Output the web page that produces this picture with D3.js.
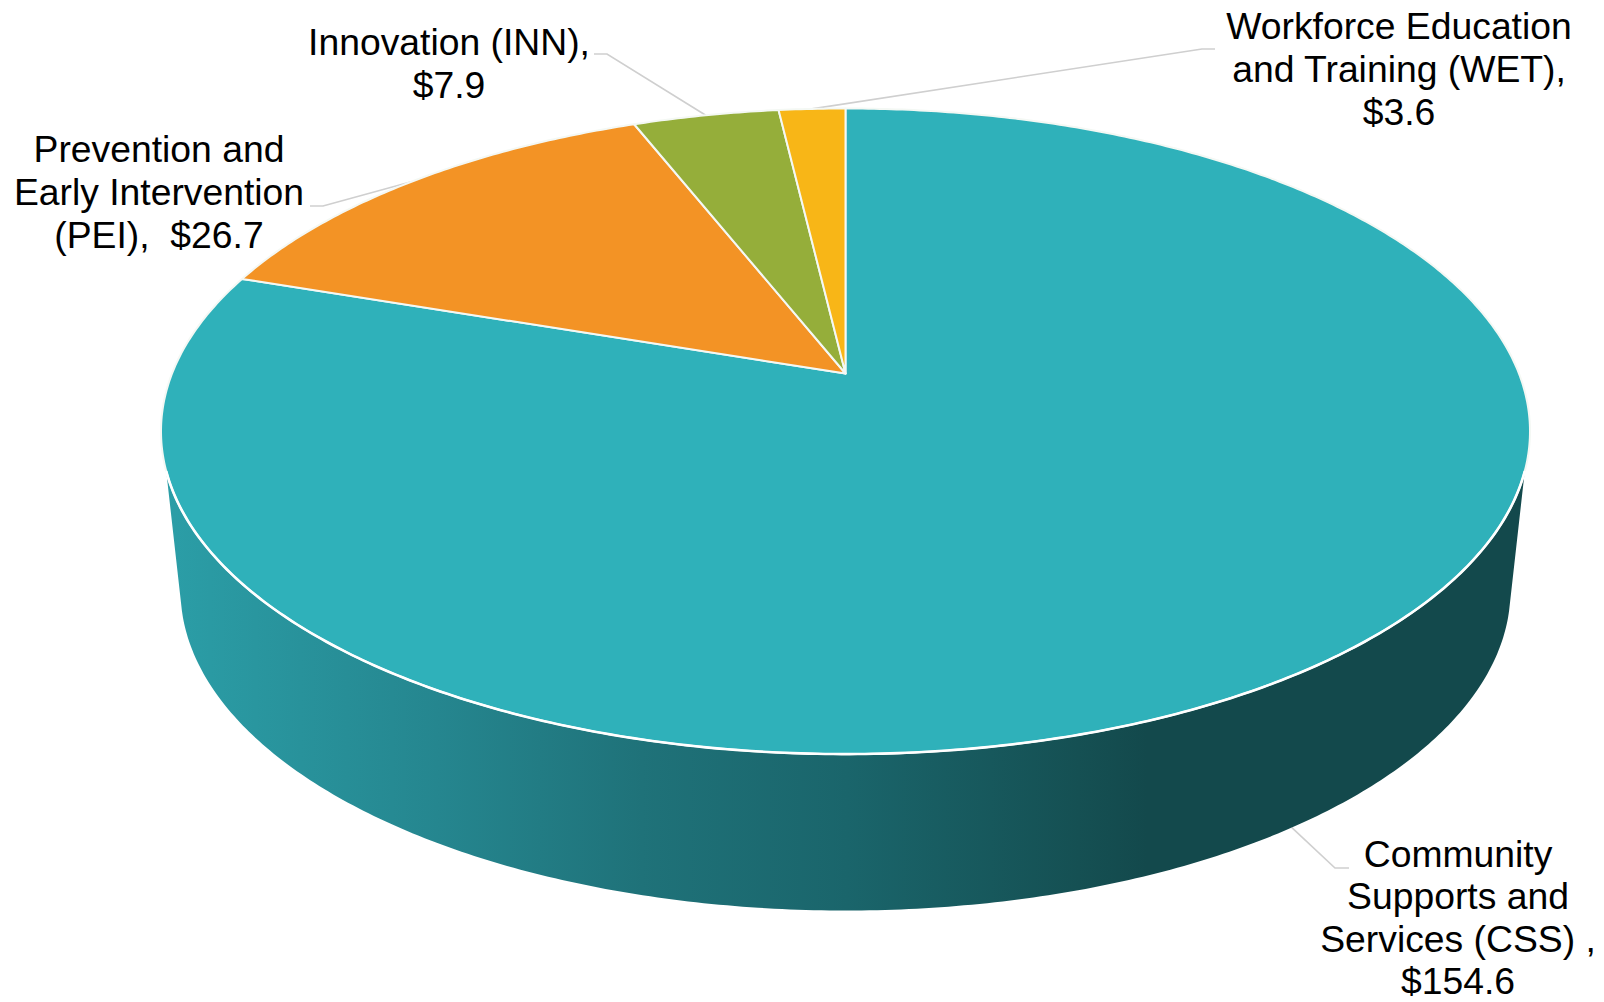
<!DOCTYPE html>
<html>
<head>
<meta charset="utf-8">
<script src="https://cdn.jsdelivr.net/npm/d3@7"></script>
<style>
html, body { margin: 0; padding: 0; background: #fff; }
svg { display: block; }
text { font-family: "Liberation Sans", Arial, sans-serif; font-size: 37.3px; fill: #000; text-anchor: middle; white-space: pre; }
</style>
</head>
<body>
<div class="container"></div>
<script>
const WIDTH = 1604;
const HEIGHT = 1002;

var categories = ["CSS", "PEI", "INN", "WET"];
var values = [154.6, 26.7, 7.9, 3.6];
var labelLines = [
    ["Community", "Supports and", "Services (CSS) ,", "$154.6"],
    ["Prevention and", "Early Intervention", "(PEI),  $26.7"],
    ["Innovation (INN),", "$7.9"],
    ["Workforce Education", "and Training (WET),", "$3.6"]
];
var sliceColors = ["#2fb1ba", "#f39325", "#95ae3a", "#f8b617"];

// pie geometry
const TOP = { cx: 845.5, cy: 431.3, rx: 684.5, ry: 322.8 };
const BOTTOM = { cx: 845.5, cy: 590, rx: 665, ry: 320.5 };
const TILT = 0.179;
const DEG = Math.PI / 180;

// label placing: text centre, first baseline, line step, start and knee of the leader
var labelPlaces = [
    { x: 1458, y: 866.8, step: 42.4, lx: 1349, ly: 868, kx: 1335, ky: 868, face: BOTTOM },
    { x: 159, y: 162, step: 43, lx: 310, ly: 206, kx: 323, ky: 206, face: TOP },
    { x: 449, y: 55, step: 43, lx: 594, ly: 54, kx: 607, ky: 54, face: TOP },
    { x: 1399, y: 39, step: 43, lx: 1215, ly: 49, kx: 1202, ky: 49, face: TOP }
];

var translate = function(x, y) {
    return `translate(${x},${y})`;
};

// perspective: takes an angle on the real disc to a point on the drawn ellipse
var project = function(face, angle, r) {
    let xScale = d3.scaleLinear().domain([-1, 1]).range([face.cx - face.rx, face.cx + face.rx]);
    let yScale = d3.scaleLinear().domain([-1, 1]).range([face.cy - face.ry, face.cy + face.ry]);
    let u = r * Math.sin(angle);
    let v = -r * Math.cos(angle);
    let w = 1 - TILT * v;
    return [xScale(u * Math.sqrt(1 - TILT * TILT) / w), yScale((v - TILT) / w)];
};

var arcPoints = function(face, start, end) {
    let steps = Math.max(2, Math.ceil((end - start) / 0.01));
    return d3.range(steps + 1).map((i) => project(face, start + (end - start) * i / steps, 1));
};

var showChart = function() {
    var svg = d3.select('.container').append('svg')
        .attr('width', WIDTH)
        .attr('height', HEIGHT);

    var line = d3.line();

    var gradient = svg.append('defs').append('linearGradient')
        .attr('id', 'wall')
        .attr('gradientUnits', 'userSpaceOnUse')
        .attr('x1', 165).attr('x2', 1529).attr('y1', 0).attr('y2', 0);
    [[0, '#2b9ea7'], [0.2, '#25868f'], [0.35, '#1f7279'], [0.5, '#1a656b'], [0.67, '#155053'], [0.72, '#13494c'], [1, '#13494c']]
        .forEach(([offset, color]) => {
            gradient.append('stop').attr('offset', offset).attr('stop-color', color);
        });

    // leader lines go under the pie
    var pie = d3.pie().sort(null).startAngle(0).endAngle(2 * Math.PI);
    var slices = pie(values);

    var leaders = svg.append('g');
    slices.forEach(function(d, i) {
        let place = labelPlaces[i];
        let anchor = project(place.face, (d.startAngle + d.endAngle) / 2, 1);
        leaders.append('path')
            .attr('d', line([[place.lx, place.ly], [place.kx, place.ky], anchor]))
            .attr('fill', 'none')
            .attr('stroke', '#cfcfcf')
            .attr('stroke-width', 1.6);
    });

    // side wall: front of the lower ellipse, straight up to the rim at both ends
    var lower = arcPoints(BOTTOM, 104 * DEG, 256 * DEG);
    var upper = arcPoints(TOP, 107.2 * DEG, 252.8 * DEG).reverse();
    svg.append('path')
        .attr('d', line(lower.concat(upper)) + 'Z')
        .attr('fill', 'url(#wall)');

    // top face
    svg.append('g').selectAll('path').data(slices).enter()
        .append('path')
        .attr('d', (d) => line([project(TOP, 0, 0)].concat(arcPoints(TOP, d.startAngle, d.endAngle))) + 'Z')
        .attr('fill', (d, i) => sliceColors[i])
        .attr('stroke', '#f4f8f4')
        .attr('stroke-width', 2)
        .attr('stroke-linejoin', 'round');

    // brighter rim where the top meets the wall
    svg.append('path')
        .attr('d', line(upper))
        .attr('fill', 'none')
        .attr('stroke', '#fff')
        .attr('stroke-width', 2.6);

    // labels
    var labels = svg.append('g');
    labelLines.forEach(function(lines, i) {
        labels.append('text')
            .attr('transform', translate(labelPlaces[i].x, labelPlaces[i].y))
            .selectAll('tspan').data(lines).enter()
            .append('tspan')
            .attr('x', 0)
            .attr('y', (d, j) => j * labelPlaces[i].step)
            .text((d) => d);
    });
};

window.onload = showChart;
</script>
</body>
</html>
